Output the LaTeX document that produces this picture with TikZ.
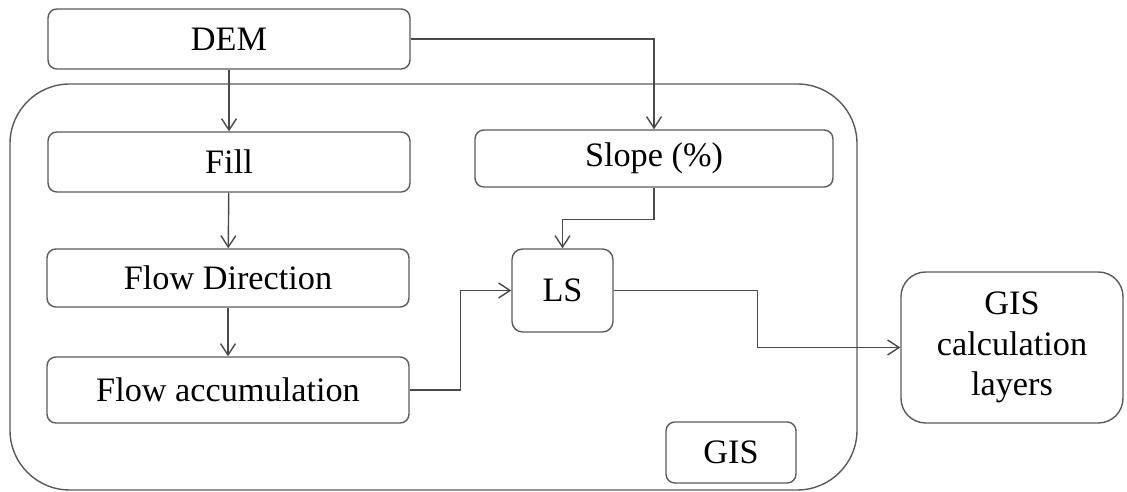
\documentclass[tikz,border=0pt]{standalone}
\usepackage{fontspec}
\setmainfont{Liberation Serif}
\usepackage{tikz}
\usetikzlibrary{arrows.meta}
\definecolor{edge}{HTML}{5A5A5A}
\definecolor{wire}{HTML}{4A4A4A}

\tikzset{
  stepbox/.style={draw=edge,line width=0.8pt,rounded corners=5pt,inner sep=0pt,
    font=\fontsize{19.5}{23}\selectfont},
  wirearrow/.style={draw=wire,line width=0.8pt,-{Straight Barb[length=6.5pt,width=8.5pt]}}
}

\begin{document}
\begin{tikzpicture}[x=0.02cm,y=-0.02cm]
\useasboundingbox (0,0) rectangle (1127,492);
% GIS frame
\draw[draw=edge,line width=0.8pt,rounded corners=34pt] (10,84) rectangle (857,490);

\node[stepbox,minimum width=7.24cm,minimum height=1.2cm] (dem) at (229,39) {DEM};
\node[stepbox,minimum width=7.24cm,minimum height=1.2cm] (fill) at (229,162) {Fill};
\node[stepbox,minimum width=7.24cm,minimum height=1.16cm] (fdir) at (228,278) {Flow Direction};
\node[stepbox,minimum width=7.24cm,minimum height=1.32cm] (facc) at (228,390) {Flow accumulation};
\node[stepbox,minimum width=7.16cm,minimum height=1.14cm] (slope) at (654,158.5) {Slope (\%)};
\node[stepbox,minimum width=2.02cm,minimum height=1.66cm,rounded corners=6pt] (ls) at (562.5,290.5) {LS};
\node[stepbox,minimum width=2.6cm,minimum height=1.22cm] (gis) at (731,452.5) {GIS};
\node[stepbox,minimum width=4.44cm,minimum height=3.02cm,rounded corners=14pt,align=center] (gisc) at (1012,347.5) {GIS\\calculation\\layers};

% links
\draw[wirearrow] (dem) -- (fill);
\draw[wirearrow] (fill) -- (fdir);
\draw[wirearrow] (fdir) -- (facc);
\draw[wirearrow] (dem.east) -| (slope.north);
\draw[wirearrow] (slope.south) -- ++(0,32) -| (ls.north);
\draw[wirearrow] (facc.east) -- ++(51,0) |- (ls.west);
\draw[wirearrow] (ls.east) -- ++(144,0) |- (gisc.west);
\end{tikzpicture}
\end{document}
